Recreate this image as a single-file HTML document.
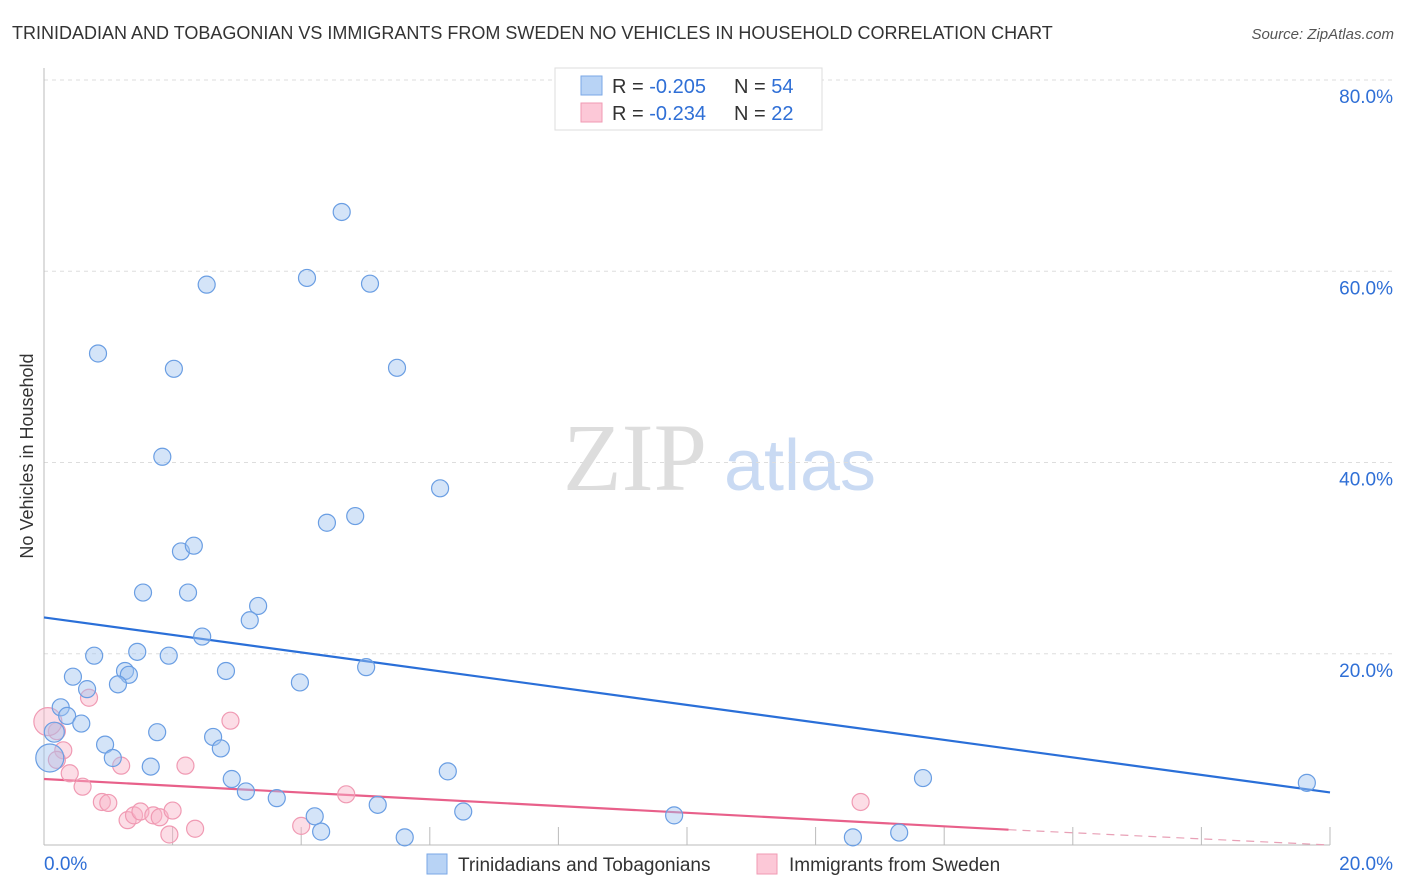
<!DOCTYPE html>
<html><head><meta charset="utf-8"><style>
body{margin:0;background:#fff;font-family:"Liberation Sans",sans-serif;}
svg{display:block}
</style></head><body>
<svg id="chart" width="1406" height="892">
<text x="12" y="39" font-size="18" fill="#333">TRINIDADIAN AND TOBAGONIAN VS IMMIGRANTS FROM SWEDEN NO VEHICLES IN HOUSEHOLD CORRELATION CHART</text>
<text x="1394" y="39" font-size="15" fill="#555" font-style="italic" text-anchor="end">Source: ZipAtlas.com</text>
<text x="33" y="456" font-size="18" fill="#333" text-anchor="middle" transform="rotate(-90 33 456)">No Vehicles in Household</text>
<g>
<text x="635" y="490" font-size="96" fill="#ddd" font-family="Liberation Serif,serif" text-anchor="middle">ZIP</text>
<text x="800" y="490" font-size="72" fill="#c9daf3" text-anchor="middle">atlas</text>
</g>
<g id="grid"></g><g id="axes"></g><g id="lines"></g><g id="points"></g>
<g>
<rect x="555" y="68" width="267" height="62" fill="#fff" stroke="#ddd"/>
<rect x="581" y="76" width="21" height="19" fill="#b8d3f5" stroke="#7aa7e6"/>
<rect x="581" y="103" width="21" height="19" fill="#fcc8d7" stroke="#f09ab3"/>
<text x="612" y="93" font-size="20" fill="#333">R = <tspan fill="#2f6fd6">-0.205</tspan><tspan x="734">N = </tspan><tspan fill="#2f6fd6">54</tspan></text>
<text x="612" y="120" font-size="20" fill="#333">R = <tspan fill="#2f6fd6">-0.234</tspan><tspan x="734">N = </tspan><tspan fill="#2f6fd6"> 22</tspan></text>
</g>
<g>
<rect x="427" y="854" width="20" height="20" fill="#b8d3f5" stroke="#7aa7e6"/>
<text x="458" y="871" font-size="19" fill="#333">Trinidadians and Tobagonians</text>
<rect x="757" y="854" width="20" height="20" fill="#fcc8d7" stroke="#f09ab3"/>
<text x="789" y="871" font-size="19" fill="#333">Immigrants from Sweden</text>
</g>
</svg>
<script>
const blueX=[4.63,4.09,2.53,5.07,0.84,2.02,5.49,1.84,6.16,4.40,4.84,2.13,2.33,1.54,2.24,3.33,3.20,2.46,0.78,1.45,1.94,1.26,1.32,2.83,5.01,0.45,0.67,1.15,3.98,0.26,0.36,0.58,1.76,2.63,0.95,2.75,1.07,1.66,6.28,13.67,2.92,19.64,3.14,3.62,5.19,6.52,4.21,9.80,4.31,5.61,12.58,13.30,0.09,0.16];
const blueY=[66.2,59.3,58.6,58.7,51.4,49.8,49.9,40.6,37.3,33.7,34.4,30.7,31.3,26.4,26.4,25.0,23.5,21.8,19.8,20.2,19.8,18.2,17.8,18.2,18.6,17.6,16.3,16.8,17.0,14.4,13.5,12.7,11.8,11.3,10.5,10.1,9.1,8.2,7.7,7.0,6.9,6.5,5.6,4.9,4.2,3.5,3.0,3.1,1.4,0.8,0.8,1.3,9.1,11.8];
const pinkX=[0.7,2.9,0.2,0.3,0.2,0.4,0.6,2.2,1.2,4.7,0.9,1.0,12.7,1.3,1.4,1.5,1.7,1.8,2.0,2.35,1.95,4.0,0.06];
const pinkY=[15.4,13.0,11.9,9.9,8.9,7.5,6.1,8.3,8.3,5.3,4.5,4.4,4.5,2.6,3.1,3.5,3.1,2.9,3.6,1.7,1.1,2.0,12.9];
const blueTrendX=[0,20],blueTrendY=[23.8,5.5];
const pinkTrendX=[0,15],pinkTrendY=[6.9,1.6],pinkDashX=[15,20],pinkDashY=[1.6,0];
const xTicks=[0,20],yTicks=[20,40,60,80];
const X0=44,X1=1330,Y0=845,Y80=80;
const sx=v=>X0+(X1-X0)*v/20, sy=v=>Y0-(Y0-Y80)*v/80;
const NS='http://www.w3.org/2000/svg';
function mk(p,t,a){const e=document.createElementNS(NS,t);for(const k in a)e.setAttribute(k,a[k]);p.appendChild(e);return e;}
const g=document.getElementById('grid'),ax=document.getElementById('axes'),ln=document.getElementById('lines'),pt=document.getElementById('points');
yTicks.forEach(v=>{
 const l=mk(g,'line',{x1:X0,x2:1394,y1:sy(v),y2:sy(v),stroke:'#ddd','stroke-dasharray':'4,4'});
 
 
 const t=mk(ax,'text',{x:1393,y:sy(v)+23,'font-size':19,fill:'#2f6fd6','text-anchor':'end'});t.textContent=v.toFixed(1)+'%';
 
 
});
const yl=mk(ax,'line',{x1:X0,x2:X0,y1:68,y2:Y0,stroke:'#bbb'});


const xl=mk(ax,'line',{x1:X0,x2:X1,y1:Y0,y2:Y0,stroke:'#bbb'});


for(let i=1;i<=10;i++){const x=sx(i*2);const tk=mk(ax,'line',{x1:x,x2:x,y1:Y0-18,y2:Y0,stroke:'#bbb'});
 
 }
xTicks.forEach((v,i)=>{const t=mk(ax,'text',{x:i?1393:44,y:870,'font-size':19,fill:'#2f6fd6','text-anchor':i?'end':'start'});t.textContent=v.toFixed(1)+'%';
 
 });
const bl=mk(ln,'line',{x1:sx(blueTrendX[0]),y1:sy(blueTrendY[0]),x2:sx(blueTrendX[1]),y2:sy(blueTrendY[1]),stroke:'#2a6fd8','stroke-width':2.2});


const pl=mk(ln,'line',{x1:sx(pinkTrendX[0]),y1:sy(pinkTrendY[0]),x2:sx(pinkTrendX[1]),y2:sy(pinkTrendY[1]),stroke:'#e8608a','stroke-width':2.2});


const pd=mk(ln,'line',{x1:sx(pinkDashX[0]),y1:sy(pinkDashY[0]),x2:sx(pinkDashX[1]),y2:sy(pinkDashY[1]),stroke:'#e8a0b6','stroke-width':1.2,'stroke-dasharray':'8,6'});


pinkX.forEach((v,i)=>{const c=mk(pt,'circle',{cx:sx(v),cy:sy(pinkY[i]),r:i===pinkX.length-1?14:8.5,fill:'rgba(248,180,200,0.45)',stroke:'#f09ab3','stroke-width':1.2});
 
 });
blueX.forEach((v,i)=>{const c=mk(pt,'circle',{cx:sx(v),cy:sy(blueY[i]),r:i>=52?(i===52?14:10):8.5,fill:'rgba(160,195,240,0.45)',stroke:'#6a9ee3','stroke-width':1.2});
 
 });
</script>
</body></html>
